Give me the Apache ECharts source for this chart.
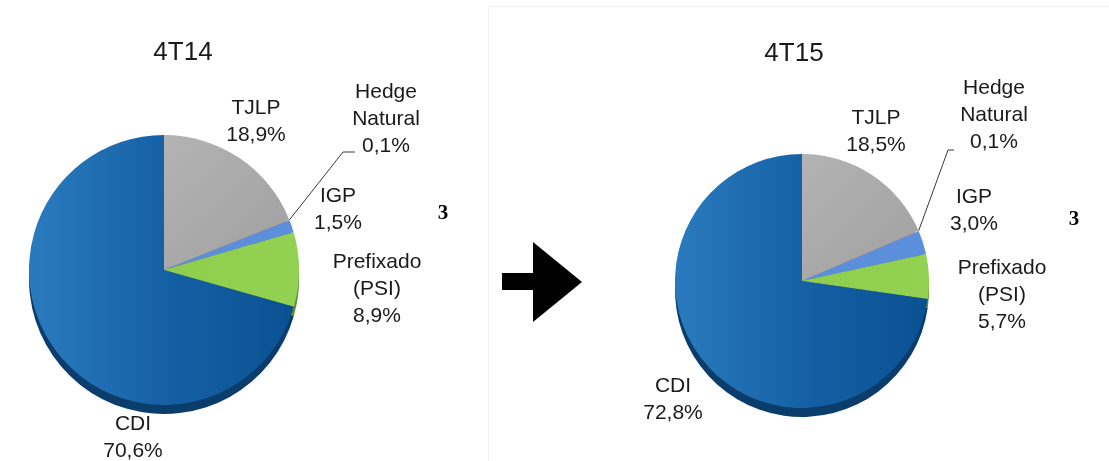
<!DOCTYPE html>
<html>
<head>
<meta charset="utf-8">
<title>Indexadores da dívida 4T14 x 4T15</title>
<script src="https://cdn.jsdelivr.net/npm/echarts@6/dist/echarts.min.js"></script>
<style>
  html, body { margin: 0; padding: 0; background: #ffffff; }
  #chart { width: 1109px; height: 461px; }
</style>
</head>
<body>
<div id="chart"></div>
<script>
// Debt breakdown by index, share of total (%)
const categories = ['TJLP', 'Hedge\nNatural', 'IGP', 'Prefixado\n(PSI)', 'CDI'];
const periods = ['4T14', '4T15'];
const values4T14 = [18.9, 0.1, 1.5, 8.9, 70.6];
const values4T15 = [18.5, 0.1, 3.0, 5.7, 72.8];

const FONT = '"Liberation Sans", Arial, sans-serif';

// slice fills (top face) and the darker rim under each pie
const topColors = [
  { type: 'linear', x: 0, y: 0, x2: 1, y2: 1, colorStops: [{ offset: 0, color: '#b3b3b3' }, { offset: 1, color: '#a0a0a0' }] },
  '#cf9f9f',
  '#5b8edb',
  { type: 'linear', x: 0, y: 0, x2: 1, y2: 0, colorStops: [{ offset: 0, color: '#8fcd4c' }, { offset: 1, color: '#93d152' }] },
  { type: 'linear', x: 0, y: 0, x2: 1, y2: 0, colorStops: [{ offset: 0, color: '#2a7bbe' }, { offset: 0.55, color: '#145fa3' }, { offset: 1, color: '#0a5192' }] }
];
const rimColors = ['#7d7d7d', '#9a7a7a', '#3d6cb4', '#5f8f2f', '#0a3c6c'];

// geometry of each pie and where its labels sit
const pies = [
  { center: [164, 270], radius: 135, depth: 9,
    labels: [[256, 122], [386, 119], [338, 210], [377, 289], [133, 438]],
    leader: [[-43, 33], [-31, 33]] },
  { center: [802, 281], radius: 127, depth: 9,
    labels: [[876, 132], [994, 115], [974, 211], [1002, 295], [673, 400]],
    leader: [[-46, 35], [-40, 35]] }
];

function fmt(v) {
  return v.toFixed(1).replace('.', ',') + '%';
}

function buildData(values, colors, withLabels) {
  return categories.map(function (name, i) {
    return {
      name: name,
      value: values[i],
      itemStyle: { color: colors[i] },
      labelLine: { show: withLabels && i === 1 }
    };
  });
}

function rimSeries(values, pie) {
  return {
    type: 'pie',
    z: 1,
    silent: true,
    animation: false,
    startAngle: 90,
    clockwise: true,
    center: [pie.center[0], pie.center[1] + pie.depth],
    radius: pie.radius,
    label: { show: false },
    labelLine: { show: false },
    itemStyle: { borderWidth: 0 },
    data: buildData(values, rimColors, false)
  };
}

function faceSeries(values, pie) {
  return {
    type: 'pie',
    z: 2,
    silent: true,
    animation: false,
    startAngle: 90,
    clockwise: true,
    avoidLabelOverlap: false,
    center: pie.center,
    radius: pie.radius,
    itemStyle: { borderWidth: 0 },
    label: {
      show: true,
      position: 'outside',
      fontFamily: FONT,
      fontSize: 21,
      lineHeight: 27,
      color: '#1a1a1a',
      align: 'center',
      formatter: function (p) { return p.name + '\n' + fmt(p.value); }
    },
    labelLine: {
      show: false,
      smooth: false,
      lineStyle: { color: '#3a3a3a', width: 1 }
    },
    labelLayout: function (params) {
      const pos = pie.labels[params.dataIndex];
      const out = { x: pos[0], y: pos[1], align: 'center', verticalAlign: 'middle' };
      if (params.dataIndex === 1 && params.labelLinePoints) {
        const start = params.labelLinePoints[0];
        out.labelLinePoints = [
          [start[0], start[1]],
          [pos[0] + pie.leader[0][0], pos[1] + pie.leader[0][1]],
          [pos[0] + pie.leader[1][0], pos[1] + pie.leader[1][1]]
        ];
      }
      return out;
    },
    data: buildData(values, topColors, true)
  };
}

const chart = echarts.init(document.getElementById('chart'), null, { renderer: 'canvas' });

chart.setOption({
  backgroundColor: '#ffffff',
  animation: false,
  graphic: [
    // faint frame around the right-hand panel
    { type: 'rect', z: 0, silent: true,
      shape: { x: 488.5, y: 6.5, width: 640, height: 470 },
      style: { fill: 'none', stroke: '#f0f0f0', lineWidth: 1 } },
    // period titles
    { type: 'text', z: 5, x: 183, y: 53,
      style: { text: periods[0], font: '26px ' + FONT, fill: '#1a1a1a', textAlign: 'center', textVerticalAlign: 'middle' } },
    { type: 'text', z: 5, x: 794, y: 54,
      style: { text: periods[1], font: '26px ' + FONT, fill: '#1a1a1a', textAlign: 'center', textVerticalAlign: 'middle' } },
    // arrow between the two periods
    { type: 'polygon', z: 5,
      shape: { points: [[502, 273], [533, 273], [533, 242], [582, 282], [533, 322], [533, 290], [502, 290]] },
      style: { fill: '#000000' } },
    // page reference marks
    { type: 'text', z: 5, x: 443, y: 214,
      style: { text: '3', font: 'bold 21px "Liberation Serif", "Times New Roman", serif', fill: '#000000', textAlign: 'center', textVerticalAlign: 'middle' } },
    { type: 'text', z: 5, x: 1074, y: 220,
      style: { text: '3', font: 'bold 21px "Liberation Serif", "Times New Roman", serif', fill: '#000000', textAlign: 'center', textVerticalAlign: 'middle' } }
  ],
  series: [
    rimSeries(values4T14, pies[0]),
    rimSeries(values4T15, pies[1]),
    faceSeries(values4T14, pies[0]),
    faceSeries(values4T15, pies[1])
  ]
});
</script>
</body>
</html>
